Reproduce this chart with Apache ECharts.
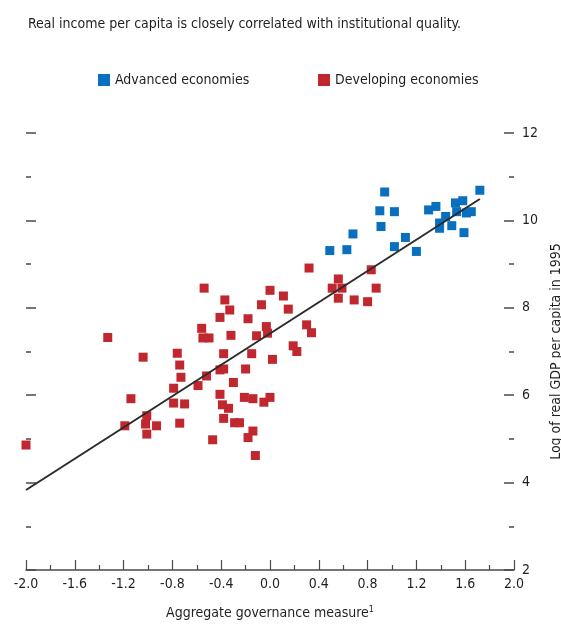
<!DOCTYPE html>
<html>
<head>
<meta charset="utf-8">
<script src="https://cdn.jsdelivr.net/npm/echarts@6/dist/echarts.min.js"></script>
<style>
html,body{margin:0;padding:0;background:#fff;}
#c{width:561px;height:626px;}
</style>
</head>
<body>
<div id="c"></div>
<script>
// ---- data ----
const titleText = "Real income per capita is closely correlated with institutional quality.";
const seriesNames = ["Advanced economies", "Developing economies"];
const xTickLabels = ["-2.0","-1.6","-1.2","-0.8","-0.4","0.0","0.4","0.8","1.2","1.6","2.0"];
const yTickLabels = ["2","4","6","8","10","12"];

const advancedX = [0.94, 1.72, 0.90, 1.02, 1.30, 1.36, 1.52, 1.58, 1.44, 1.39, 1.39, 1.49, 1.53, 1.61, 1.65, 1.59, 0.91, 0.68, 1.11, 1.02, 0.49, 0.63, 1.20];
const advancedY = [10.65, 10.69, 10.22, 10.20, 10.24, 10.32, 10.40, 10.45, 10.09, 9.94, 9.82, 9.88, 10.20, 10.17, 10.20, 9.72, 9.86, 9.69, 9.61, 9.40, 9.31, 9.33, 9.29];

const developingX = [0.32, 0.56, 0.83, 0.51, 0.59, 0.87, 0.56, 0.69, 0.80,
  -1.33, -0.54, -0.37, -0.33, -0.41, 0.00, 0.11, -0.07, 0.15, -0.18, -0.56, -0.50, -0.55, -0.32, -0.11, -0.03, -0.02, 0.30, 0.34,
  -1.04, -0.76, -0.74, -0.73, -0.79, -0.38, -0.15, 0.02, 0.19, 0.22, -0.41, -0.38, -0.52, -0.20, -0.59, -0.30,
  -1.14, -0.79, -0.70, -0.41, -0.39, -0.34, -0.21, -0.14, -0.05, 0.00,
  -1.01, -1.02, -0.93, -1.19, -1.01, -0.74, -0.38, -0.29, -0.25, -0.14, -0.18, -0.47, -0.12, -2.00];
const developingY = [8.91, 8.66, 8.87, 8.45, 8.45, 8.45, 8.22, 8.18, 8.14,
  7.32, 8.45, 8.18, 7.95, 7.78, 8.40, 8.27, 8.07, 7.97, 7.75, 7.53, 7.31, 7.31, 7.37, 7.36, 7.57, 7.42, 7.61, 7.43,
  6.87, 6.96, 6.69, 6.41, 6.16, 6.95, 6.95, 6.82, 7.13, 7.00, 6.58, 6.60, 6.44, 6.60, 6.22, 6.29,
  5.92, 5.82, 5.80, 6.02, 5.78, 5.70, 5.95, 5.92, 5.84, 5.95,
  5.53, 5.34, 5.30, 5.30, 5.11, 5.36, 5.47, 5.37, 5.37, 5.18, 5.03, 4.98, 4.62, 4.86];

const fitX = [-2.0, 1.72];
const fitY = [3.83, 10.49];

// ---- chart ----
const FONT = "'Liberation Sans Narrow','DejaVu Sans Condensed','Arial Narrow',sans-serif";
const BLUE = "#0a70bd";
const RED = "#c1272f";
const AX = "#4a4a4a";
const zip = (a, b) => a.map((v, i) => [v, b[i]]);

const chart = echarts.init(document.getElementById('c'), null, {renderer: 'canvas'});
chart.setOption({
  animation: false,
  backgroundColor: '#fff',
  title: {
    text: titleText, left: 23, top: 12,
    textStyle: {fontFamily: FONT, fontSize: 14, fontWeight: 'normal', color: '#231f20'}
  },
  legend: [
    {data: [seriesNames[0]], left: 93, top: 68, icon: 'rect', itemWidth: 12, itemHeight: 12,
     textStyle: {fontFamily: FONT, fontSize: 14, color: '#231f20'}},
    {data: [seriesNames[1]], left: 313, top: 68, icon: 'rect', itemWidth: 12, itemHeight: 12,
     textStyle: {fontFamily: FONT, fontSize: 14, color: '#231f20'}}
  ],
  grid: {left: 26, right: 47, top: 133, bottom: 56, containLabel: false, outerBoundsMode: 'none'},
  xAxis: {
    type: 'value', min: -2, max: 2, interval: 0.4,
    name: 'Aggregate governance measure{sup|1}',
    nameLocation: 'middle', nameGap: 35,
    nameTextStyle: {fontFamily: FONT, fontSize: 14, color: '#231f20',
      rich: {sup: {fontFamily: FONT, fontSize: 9, verticalAlign: 'top', padding: [0, 0, 8, 0], color: '#231f20'}}},
    axisLine: {show: true, onZero: false, lineStyle: {color: AX, width: 1.5}},
    axisTick: {show: true, inside: true, length: 10, lineStyle: {color: AX, width: 1.2}},
    minorTick: {show: true, splitNumber: 2, length: 5, lineStyle: {color: AX, width: 1.2}},
    splitLine: {show: false},
    axisLabel: {fontFamily: FONT, fontSize: 14, color: '#231f20', margin: 7,
      formatter: v => xTickLabels[Math.round((v + 2) / 0.4)] }
  },
  yAxis: [
    {
      type: 'value', min: 2, max: 12, interval: 2, position: 'right',
      name: 'Log of real GDP per capita in 1995',
      nameLocation: 'middle', nameGap: 26, nameRotate: 90,
      nameTextStyle: {fontFamily: FONT, fontSize: 14, color: '#231f20'},
      axisLine: {show: false, onZero: false},
      axisTick: {show: true, inside: true, length: 10, lineStyle: {color: AX, width: 1.5}},
      minorTick: {show: true, splitNumber: 2, length: 5, lineStyle: {color: AX, width: 1.5}},
      splitLine: {show: false},
      axisLabel: {fontFamily: FONT, fontSize: 14, color: '#231f20', margin: 8,
        formatter: v => yTickLabels[Math.round((v - 2) / 2)]}
    },
    {
      type: 'value', min: 2, max: 12, interval: 2, position: 'left',
      axisLine: {show: false, onZero: false},
      axisTick: {show: true, inside: true, length: 10, lineStyle: {color: AX, width: 1.5}},
      minorTick: {show: true, splitNumber: 2, length: 5, lineStyle: {color: AX, width: 1.5}},
      splitLine: {show: false},
      axisLabel: {show: false}
    }
  ],
  series: [
    {name: seriesNames[0], type: 'scatter', symbol: 'rect', symbolSize: 9,
     itemStyle: {color: BLUE, opacity: 1}, data: zip(advancedX, advancedY), z: 3},
    {name: seriesNames[1], type: 'scatter', symbol: 'rect', symbolSize: 9,
     itemStyle: {color: RED, opacity: 1}, data: zip(developingX, developingY), z: 3},
    {name: 'fit', type: 'line', data: zip(fitX, fitY), symbol: 'none',
     lineStyle: {color: '#2b2b2b', width: 2}, z: 4, silent: true}
  ]
});
</script>
</body>
</html>
